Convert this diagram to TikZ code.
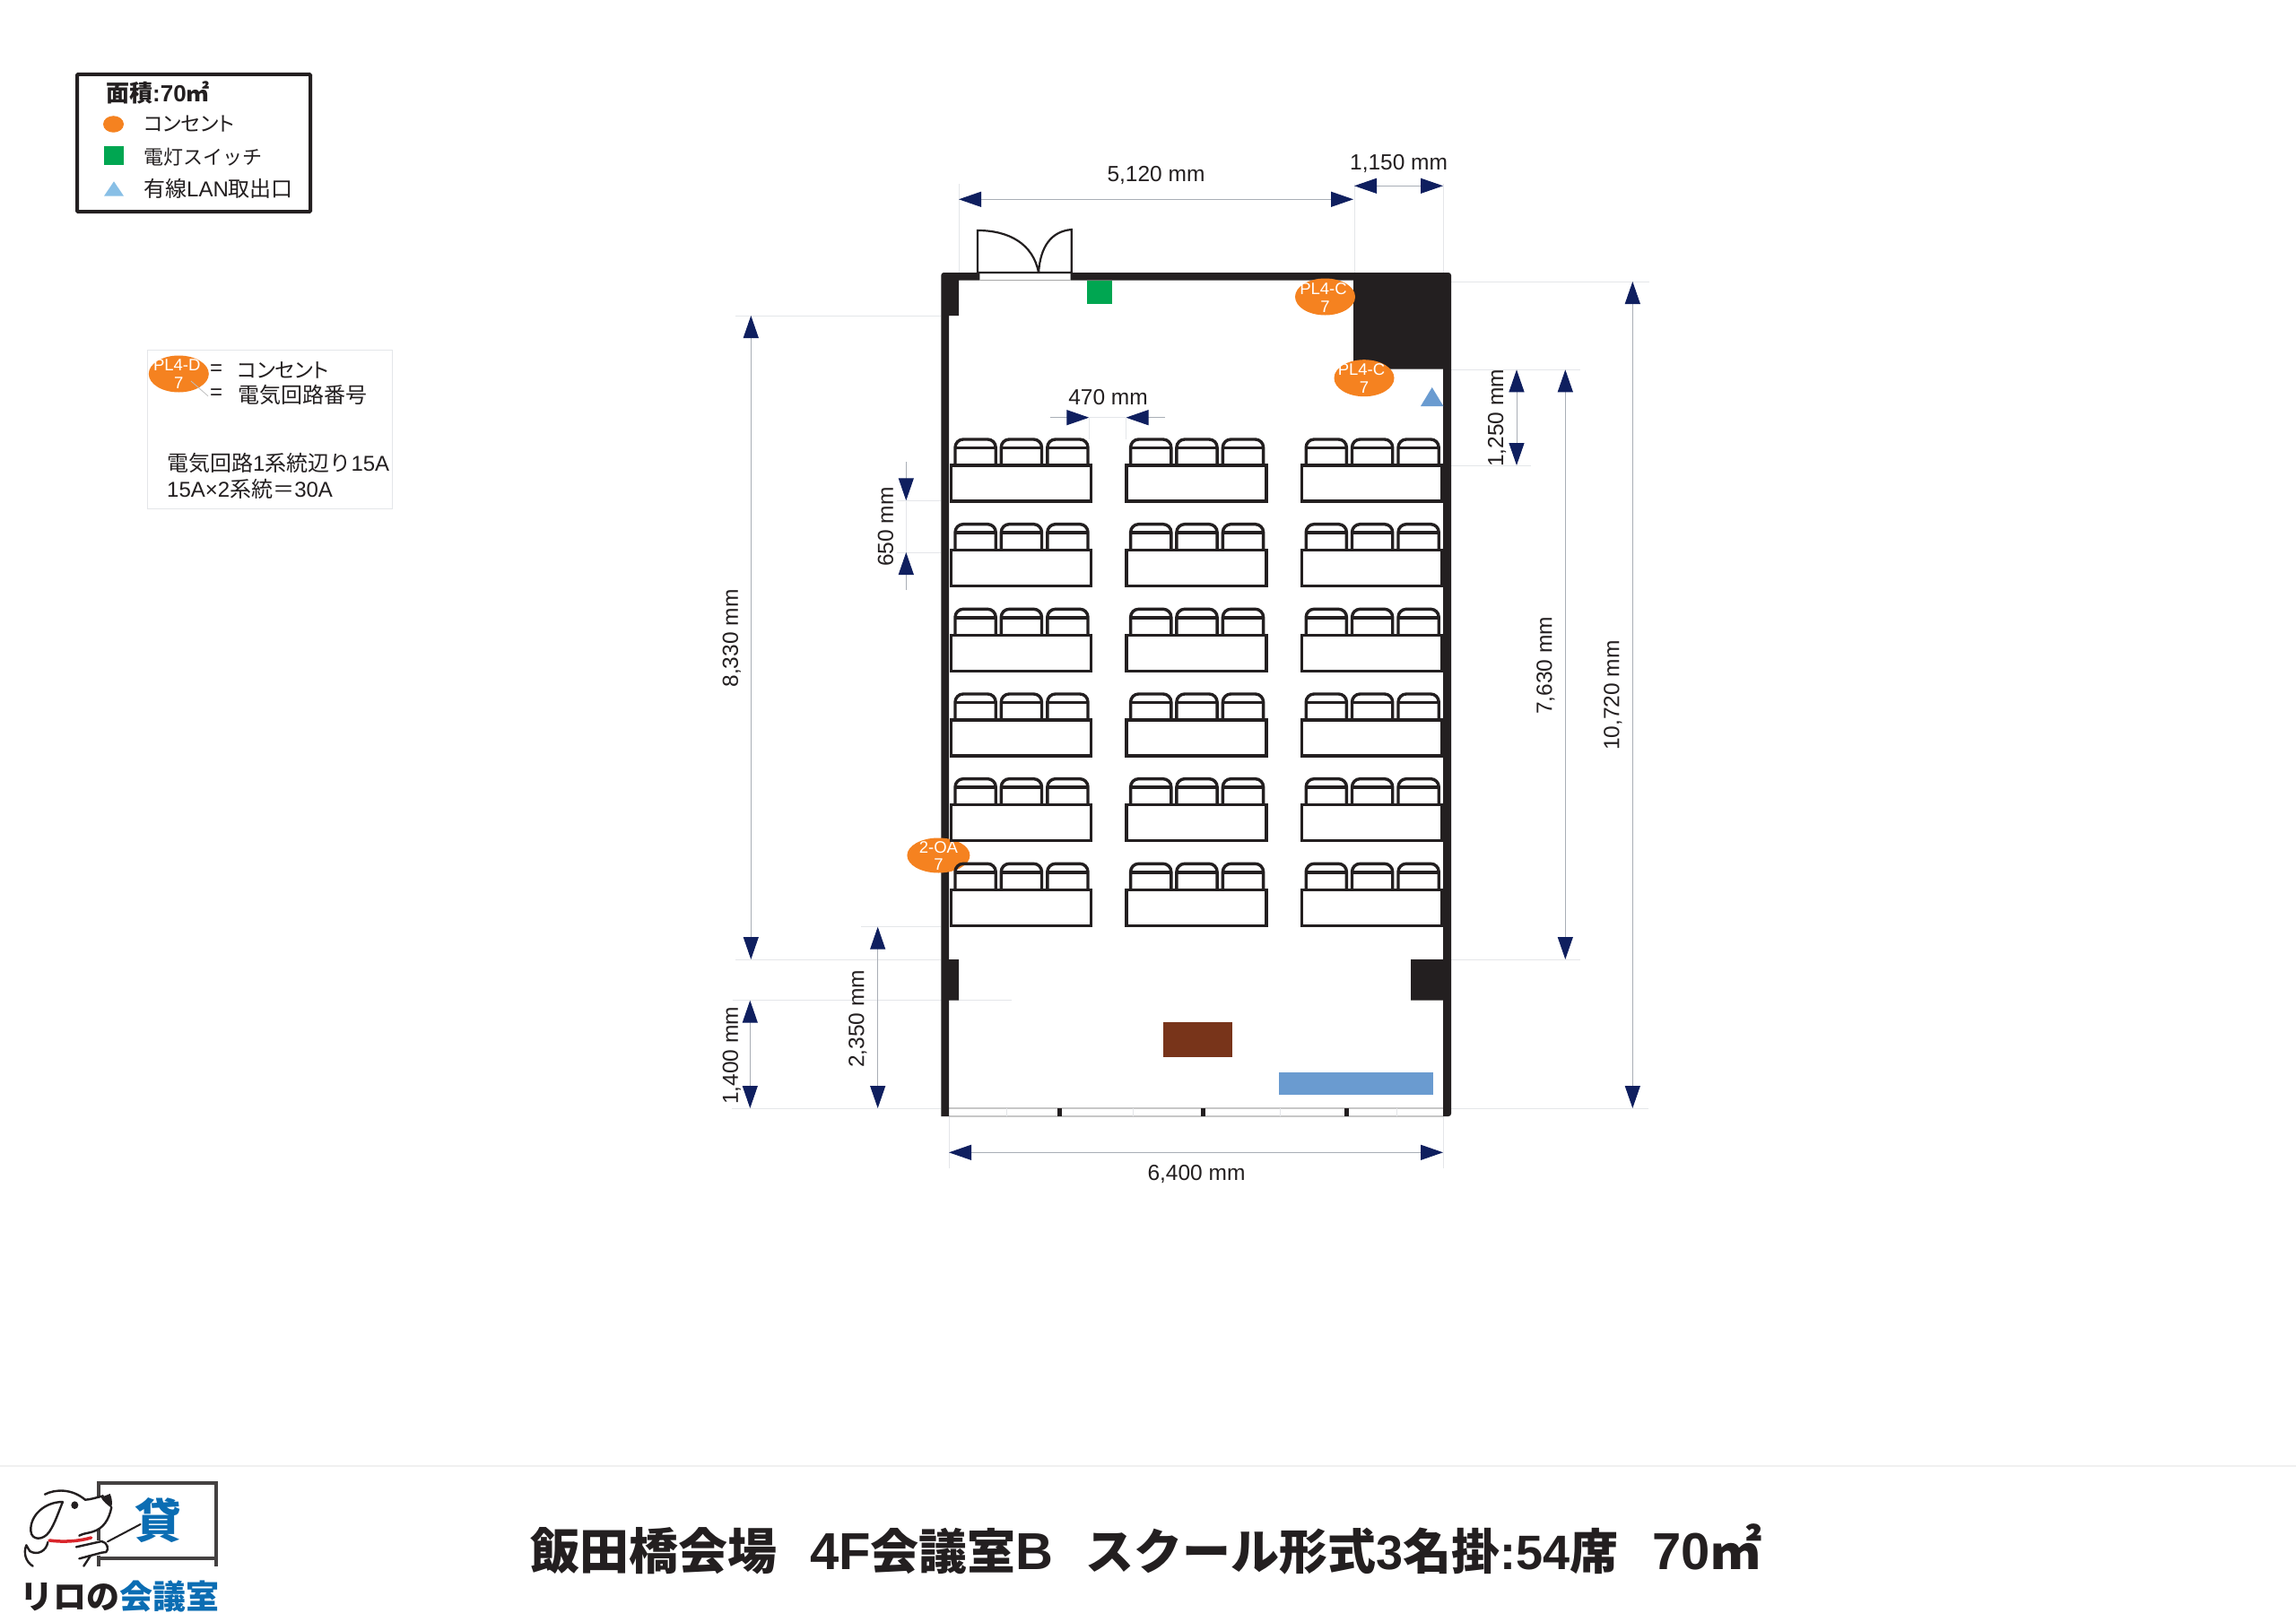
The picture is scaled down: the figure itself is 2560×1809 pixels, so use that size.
\documentclass[tikz,border=0pt]{standalone}
\usepackage{fontspec}
\setmainfont{Liberation Sans}
\newfontfamily\cjk{Noto Sans CJK JP}
\newfontfamily\cjkp[RawFeature=+palt]{Noto Sans CJK JP}
\usetikzlibrary{arrows.meta,shapes.geometric}
\definecolor{wallc}{HTML}{231F20}
\definecolor{navyc}{HTML}{0F1F5F}
\definecolor{dimc}{HTML}{A9AEB6}
\definecolor{extc}{HTML}{E4E6E9}
\definecolor{orangec}{HTML}{F58220}
\definecolor{greenc}{HTML}{00A651}
\definecolor{lightblue}{HTML}{88BFE6}
\definecolor{midblue}{HTML}{6A9BD0}
\definecolor{brownc}{HTML}{78341A}
\definecolor{logoblue}{HTML}{0B6DB3}
\definecolor{logored}{HTML}{D9252B}
\newcommand{\J}[1]{{\cjk #1}}
\newcommand{\JP}[1]{{\cjkp #1}}
\tikzset{
 x=1pt,y=-1pt,
 wall/.style={fill=wallc},
 dimline/.style={draw=dimc,line width=1pt},
 dimtip/.style={dimline,-{Triangle[length=25pt,width=17pt,color=navyc,fill=navyc]}},
 dimtwo/.style={dimline,{Triangle[length=25pt,width=17pt,color=navyc,fill=navyc]}-{Triangle[length=25pt,width=17pt,color=navyc,fill=navyc]}},
 extline/.style={draw=extc,line width=1pt},
 label/.style={inner sep=0pt,text=wallc,font=\fontsize{24.5}{28}\selectfont},
 vlabel/.style={label,rotate=90},
 legendtxt/.style={inner sep=0pt,anchor=west,text=wallc,font=\fontsize{22}{26}\selectfont},
 note/.style={inner sep=0pt,anchor=west,text=wallc,font=\fontsize{24}{28}\selectfont},
 outlet/.style={ellipse,fill=orangec,inner sep=0pt,minimum width=67pt,minimum height=41pt},
 outtxt/.style={inner sep=0pt,text=white,font=\fontsize{18.5}{20}\selectfont},
 furn/.style={draw=wallc,line width=3.4pt,line join=miter},
 dog/.style={draw=wallc,line width=2.4pt,line cap=round,line join=round},
 titletxt/.style={inner sep=0pt,anchor=base west,text=wallc,font=\fontsize{54}{60}\selectfont\bfseries},
}
\begin{document}
\begin{tikzpicture}
\useasboundingbox[fill=white] (0,0) rectangle (2560,1809);

% footer rule
\draw[draw=black!6,line width=1.2pt] (0,1635) -- (2560,1635);

% legend box
\draw[draw=wallc,line width=4pt,rounded corners=1pt] (86,83) rectangle (346,236);
\node[inner sep=0pt,anchor=west,text=wallc,font=\fontsize{26}{28}\selectfont\bfseries] (legtitle) at (118,103) {\J{面積}:70\J{㎡}};
\node[ellipse,fill=orangec,inner sep=0pt,minimum width=23pt,minimum height=18.5pt] (legout) at (126.5,138.5) {};
\fill[greenc] (116,163.3) rectangle (138,184);
\fill[lightblue] (116,218.7) -- (138,218.7) -- (127,202.3) -- cycle;
\node[legendtxt,font=\fontsize{22.7}{26}\selectfont] (leg1) at (160,138) {\JP{コンセント}};
\node[legendtxt] (leg2) at (160,175.5) {\J{電灯スイッチ}};
\node[legendtxt,font=\fontsize{24}{26}\selectfont] (leg3) at (160,210) {\J{有線}LAN\J{取出口}};

% second legend
\draw[draw=extc,line width=1pt] (164.3,390) rectangle (437.7,567.3);
\node[outlet] (o0) at (199.3,417) {};
\node[outtxt] (o0a) at (197.3,407) {PL4-D};
\node[outtxt] (o0b) at (199.3,427) {7};
\draw[draw=black!25,line width=.8pt] (213,425) -- (232,441.7);
\node[note] (eq1) at (234,413) {=};
\node[note] (eq2) at (234,440) {=};
\node[note,font=\fontsize{23}{28}\selectfont] (n1) at (264.5,413) {\JP{コンセント}};
\node[note] (n2) at (265,440) {\J{電気回路番号}};
\node[note] (n3) at (186,516.7) {\J{電気回路}1\J{系統辺り}15A};
\node[note] (n4) at (186,545) {15A×2\J{系統＝}30A};

% extension lines
\draw[extline] (1069,205) -- (1069,304);
\draw[extline] (1510,205) -- (1510,304);
\draw[extline] (1609,205) -- (1609,304);
\draw[extline] (1214.3,465) -- (1214.3,490);
\draw[extline] (1255.5,465) -- (1255.5,490);
\draw[extline] (820,352) -- (1049,352);
\draw[extline] (820,1070) -- (1049,1070);
\draw[extline] (816.7,1115.7) -- (1128,1115.7);
\draw[extline] (816,1236) -- (1049,1236);
\draw[extline] (960,1033.7) -- (1049,1033.7);
\draw[extline] (1000,558.3) -- (1049,558.3);
\draw[extline] (1000,616) -- (1049,616);
\draw[extline] (1618,314) -- (1839,314);
\draw[extline] (1618,412.3) -- (1761.7,412.3);
\draw[extline] (1618,519) -- (1707,519);
\draw[extline] (1618,1070) -- (1762,1070);
\draw[extline] (1618,1236) -- (1837.5,1236);
\draw[extline] (1058,1245) -- (1058,1303);
\draw[extline] (1609,1245) -- (1609,1303);

% bottom glazing
\draw[draw=black!22,line width=1.5pt] (1058,1236) -- (1609,1236);
\draw[draw=black!22,line width=1.5pt] (1058,1245) -- (1609,1245);
\foreach \gx in {1122.7,1263,1427.5,1557}{\draw[extline] (\gx,1236) -- (\gx,1245);}
\foreach \gx in {1181,1341,1501}{\fill[wallc] (\gx-2.5,1236) rectangle (\gx+2.5,1245);}

% walls
\fill[wall] [rounded corners=3pt] (1049.3,1245) -- (1049.3,304) -- (1618,304) -- (1618,1245) [sharp corners] -- (1609,1245) -- (1609,1115.7) -- (1573,1115.7) -- (1573,1070) -- (1609,1070) -- (1609,411.7) -- (1509,411.7) -- (1509,312.7) -- (1069,312.7) -- (1069,352) -- (1058,352) -- (1058,1070) -- (1069,1070) -- (1069,1115.7) -- (1058,1115.7) -- (1058,1245) -- cycle;

% door
\draw[draw=black!35,fill=white,line width=1pt] (1092,304) rectangle (1193.5,312.7);
\draw[draw=wallc,line width=2.2pt] (1158,304) .. controls (1152,272) and (1125,257) .. (1090,257) -- (1090,304) -- (1194.7,304) -- (1194.7,256) .. controls (1172,258) and (1160,275) .. (1158,304);

% devices
\fill[greenc] (1212,312.7) rectangle (1239.6,338.7);
\fill[midblue] (1584,453) -- (1609.4,453) -- (1596.7,432) -- cycle;
\fill[brownc] (1296.7,1139.7) rectangle (1374,1178.7);
\fill[midblue] (1425.7,1195.7) rectangle (1597.9,1221.3);

% outlets
\node[outlet] (o1) at (1477.5,331) {};
\node[outtxt] (o1a) at (1475.5,321.7) {PL4-C};
\node[outtxt] (o1b) at (1477.5,341.7) {7};
\node[outlet] (o2) at (1521,421.7) {};
\node[outtxt] (o2a) at (1518,412) {PL4-C};
\node[outtxt] (o2b) at (1521,432) {7};
\node[outlet,minimum width=70pt,minimum height=39pt] (o3) at (1046.4,954) {};
\node[outtxt] (o3a) at (1046.4,945) {2-OA};
\node[outtxt] (o3b) at (1046.4,964) {7};

% tables and chairs
\foreach \c in {0,1,2}{
 \foreach \r in {0,...,5}{
  \begin{scope}[shift={(\c*195.6,\r*94.66)}]
   \draw[furn] (1060.3,519) rectangle (1216.3,559);
   \foreach \s in {1065,1116.3,1167.8}{
    \draw[furn,rounded corners=9pt] (\s,519) -- (\s,490) -- (\s+45.2,490) -- (\s+45.2,519);
    \draw[furn] (\s,499.5) -- (\s+45.2,499.5);
   }
  \end{scope}
 }
}

% dimensions
\coordinate (a1) at (1069,222.3); \coordinate (a2) at (1509,222.3);
\draw[dimtwo] (a1) -- (a2);
\node[label] (t5120) at (1289,196) {5,120 mm};
\coordinate (b1) at (1510,207.3); \coordinate (b2) at (1609,207.3);
\draw[dimtwo] (b1) -- (b2);
\node[label] (t1150) at (1559.6,182.5) {1,150 mm};
\coordinate (c1) at (1171,465.7); \coordinate (c2) at (1214.3,465.7); \coordinate (c3) at (1299,465.7); \coordinate (c4) at (1255.5,465.7);
\draw[dimtip] (c1) -- (c2);
\draw[dimtip] (c3) -- (c4);
\draw[extline] (c2) -- (c4);
\node[label] (t470) at (1235.5,442.7) {470 mm};
\coordinate (d1) at (837.3,352); \coordinate (d2) at (837.3,1070);
\draw[dimtwo] (d1) -- (d2);
\node[vlabel] (t8330) at (815.8,712) {8,330 mm};
\coordinate (e1) at (836.3,1115.7); \coordinate (e2) at (836.3,1236);
\draw[dimtwo] (e1) -- (e2);
\node[vlabel] (t1400) at (815.8,1177.2) {1,400 mm};
\coordinate (f1) at (978.7,1033.7); \coordinate (f2) at (978.7,1236);
\draw[dimtwo] (f1) -- (f2);
\node[vlabel] (t2350) at (956.5,1136.5) {2,350 mm};
\coordinate (g1) at (1010.3,515); \coordinate (g2) at (1010.3,558.3); \coordinate (g3) at (1010.3,658); \coordinate (g4) at (1010.3,616);
\draw[dimtip] (g1) -- (g2);
\draw[dimtip] (g3) -- (g4);
\draw[extline] (g2) -- (g4);
\node[vlabel] (t650) at (987.5,587.5) {650 mm};
\coordinate (h1) at (1691,412.3); \coordinate (h2) at (1691,519);
\draw[dimtwo] (h1) -- (h2);
\node[vlabel] (t1250) at (1669.1,466.5) {1,250 mm};
\coordinate (i1) at (1745.3,412.3); \coordinate (i2) at (1745.3,1070);
\draw[dimtwo] (i1) -- (i2);
\node[vlabel] (t7630) at (1723.3,742.5) {7,630 mm};
\coordinate (j1) at (1820.3,314); \coordinate (j2) at (1820.3,1236);
\draw[dimtwo] (j1) -- (j2);
\node[vlabel] (t10720) at (1798.4,775.5) {10,720 mm};
\coordinate (k1) at (1058,1285.3); \coordinate (k2) at (1609,1285.3);
\draw[dimtwo] (k1) -- (k2);
\node[label] (t6400) at (1334,1310) {6,400 mm};

% title
\node[titletxt,font=\fontsize{55}{60}\selectfont\bfseries] (title1) at (591,1750) {\J{飯田橋会場}};
\node[titletxt] (title2) at (903,1750) {{\fontsize{58}{60}\selectfont 4F}\J{会議室}{\fontsize{58}{60}\selectfont B}};
\node[titletxt] (title3) at (1210,1750) {\J{スクール形式}3\J{名掛}:54\J{席}};
\node[titletxt,font=\fontsize{58}{60}\selectfont\bfseries] (title4) at (1842,1750) {70\J{㎡}};

% logo
\begin{scope}[shift={(0,1620)},x=0.3333pt,y=-0.3333pt]
 \draw[draw=wallc!85,line width=4pt] (330,150) -- (330,103) -- (722,103) -- (722,380);
 \draw[draw=wallc!85,line width=4pt] (330,355) -- (722,355);
 \draw[draw=wallc!85,line width=4pt] (330,255) -- (330,295);
 \draw[draw=wallc!85,line width=4pt] (330,345) -- (330,380);
 % dog
 \draw[dog] (210,165) .. controls (150,165) and (100,210) .. (103,262) .. controls (105,295) and (145,295) .. (165,265) .. controls (185,235) and (195,200) .. (210,165);
 \draw[dog] (150,140) .. controls (185,122) and (240,120) .. (285,158) .. controls (300,158) and (325,150) .. (345,145);
 \fill[wallc] (338,150) -- (368,138) .. controls (378,160) and (375,175) .. (372,185) .. controls (360,175) and (345,165) .. (338,150) -- cycle;
 \draw[dog] (373,183) .. controls (365,225) and (345,255) .. (310,265) .. controls (295,270) and (280,270) .. (265,278);
 \fill[wallc] (250,176) ellipse (12 and 13);
 \draw[draw=logored,line width=3.5pt,line cap=round] (165,294) .. controls (210,300) and (260,298) .. (305,285);
 \draw[dog] (160,300) .. controls (155,330) and (125,345) .. (100,330) .. controls (95,325) and (92,315) .. (88,310) .. controls (78,335) and (85,365) .. (110,380);
 \draw[dog] (255,316) -- (340,297) .. controls (360,300) and (365,325) .. (355,333) -- (340,335) -- (265,355);
 \draw[dog] (280,380) -- (303,345);
 \draw[draw=wallc,line width=2pt,line cap=round] (360,298) -- (470,240);
 \node[inner sep=0pt,text=logoblue,font=\fontsize{52}{56}\selectfont\bfseries] (kashi) at (530,228) {\J{貸}};
 \node[inner sep=0pt,anchor=west,font=\fontsize{37}{40}\selectfont\bfseries,text=wallc] (logot) at (68,480) {\J{リロの\textcolor{logoblue}{会議室}}};
\end{scope}
\end{tikzpicture}
\end{document}
